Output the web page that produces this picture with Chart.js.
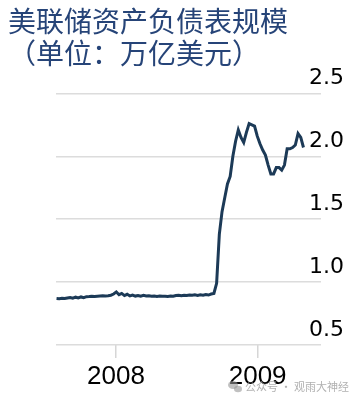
<!DOCTYPE html>
<html>
<head>
<meta charset="utf-8">
<script src="https://cdn.jsdelivr.net/npm/chart.js@4"></script>
<style>
  html, body { margin: 0; padding: 0; background: #ffffff; }
  #wrap { width: 357px; height: 402px; position: relative; }
</style>
</head>
<body>
<div id="wrap"><canvas id="c"></canvas></div>
<script>
// ---- Data (weekly, trillions of US dollars) ----
const titleLines = ['美联储资产负债表规模', '（单位：万亿美元）'];
const watermark = '公众号 · 观雨大神经';

const dates2007 = ['2007-08-01','2007-08-08','2007-08-15','2007-08-22','2007-08-29','2007-09-05','2007-09-12','2007-09-19','2007-09-26','2007-10-03','2007-10-10','2007-10-17','2007-10-24','2007-10-31','2007-11-07','2007-11-14','2007-11-21','2007-11-28','2007-12-05','2007-12-12','2007-12-19','2007-12-26'];
const values2007 = [0.870,0.868,0.872,0.869,0.874,0.878,0.872,0.880,0.874,0.882,0.876,0.884,0.885,0.887,0.886,0.888,0.890,0.891,0.889,0.892,0.896,0.905];

const dates2008a = ['2008-01-02','2008-01-09','2008-01-16','2008-01-23','2008-01-30','2008-02-06','2008-02-13','2008-02-20','2008-02-27','2008-03-05','2008-03-12','2008-03-19','2008-03-26','2008-04-02','2008-04-09','2008-04-16','2008-04-23','2008-04-30','2008-05-07','2008-05-14','2008-05-21','2008-05-28','2008-06-04','2008-06-11','2008-06-18','2008-06-25'];
const values2008a = [0.922,0.900,0.910,0.893,0.903,0.890,0.897,0.889,0.894,0.888,0.895,0.889,0.892,0.887,0.890,0.886,0.889,0.887,0.888,0.886,0.889,0.887,0.893,0.895,0.891,0.896];

const dates2008b = ['2008-07-02','2008-07-09','2008-07-16','2008-07-23','2008-07-30','2008-08-06','2008-08-13','2008-08-20','2008-08-27','2008-09-03','2008-09-10','2008-09-17','2008-09-24','2008-10-01','2008-10-08','2008-10-15','2008-10-22','2008-10-29','2008-11-05','2008-11-12','2008-11-19','2008-11-26','2008-12-03','2008-12-10','2008-12-17','2008-12-24','2008-12-31'];
const values2008b = [0.893,0.898,0.895,0.899,0.894,0.900,0.896,0.901,0.897,0.905,0.910,0.99,1.38,1.56,1.67,1.78,1.84,2.00,2.12,2.21,2.15,2.11,2.19,2.26,2.25,2.24,2.16];

const dates2009 = ['2009-01-07','2009-01-14','2009-01-21','2009-01-28','2009-02-04','2009-02-11','2009-02-18','2009-02-25','2009-03-04','2009-03-11','2009-03-18','2009-03-25','2009-04-01','2009-04-08','2009-04-15','2009-04-22','2009-04-29'];
const values2009 = [2.10,2.05,2.01,1.93,1.86,1.86,1.91,1.91,1.89,1.93,2.06,2.06,2.07,2.09,2.18,2.15,2.07];

const xTickYears = [2008, 2009];
const yTickValues = [0.5, 1.0, 1.5, 2.0, 2.5];

// ---- Build points (date -> decimal year) ----
function decimalYear(s) {
  const [y, m, d] = s.split('-').map(Number);
  const start = Date.UTC(y, 0, 1), end = Date.UTC(y + 1, 0, 1);
  return y + (Date.UTC(y, m - 1, d) - start) / (end - start);
}
const allDates = [].concat(dates2007, dates2008a, dates2008b, dates2009);
const allValues = [].concat(values2007, values2008a, values2008b, values2009);
const points = allDates.map((d, i) => ({ x: decimalYear(d), y: allValues[i] }));

const watermarkPlugin = {
  id: 'wm',
  afterDraw(chart) {
    const ctx = chart.ctx;
    ctx.save();
    ctx.fillStyle = 'rgba(150,150,150,0.75)';
    ctx.font = '11px "Noto Sans CJK SC"';
    ctx.textBaseline = 'middle';
    ctx.textAlign = 'left';
    ctx.fillText(watermark, 245, 387);
    // small chat-bubble icon
    ctx.fillStyle = 'rgba(150,150,150,0.6)';
    ctx.beginPath(); ctx.ellipse(233, 385, 5, 4, 0, 0, Math.PI * 2); ctx.fill();
    ctx.beginPath(); ctx.ellipse(238, 389, 4, 3.3, 0, 0, Math.PI * 2); ctx.fill();
    ctx.restore();
  }
};

new Chart(document.getElementById('c'), {
  type: 'line',
  data: {
    datasets: [{
      data: points,
      borderColor: '#1c3a57',
      borderWidth: 3,
      pointRadius: 0,
      tension: 0,
      fill: false,
      xAxisID: 'x',
      yAxisID: 'y'
    }]
  },
  options: {
    responsive: true,
    maintainAspectRatio: false,
    animation: false,
    events: [],
    layout: { padding: { top: 5, left: 8, right: 0, bottom: 0 } },
    plugins: {
      legend: { display: false },
      tooltip: { enabled: false },
      title: {
        display: true,
        text: titleLines,
        align: 'start',
        color: '#264478',
        font: { family: '"Noto Sans CJK SC"', size: 28, weight: 'normal', lineHeight: 1.15 },
        padding: { top: 0, bottom: 24 }
      }
    },
    scales: {
      x: {
        type: 'linear',
        position: 'bottom',
        min: 2007.577,
        max: 2009.447,
        afterBuildTicks(scale) { scale.ticks = xTickYears.map(v => ({ value: v })); },
        afterFit(scale) { scale.height = 57; },
        ticks: {
          color: '#000000',
          font: { family: '"Liberation Sans"', size: 26 },
          padding: 3,
          maxRotation: 0,
          autoSkip: false,
          callback: v => String(v)
        },
        grid: {
          drawOnChartArea: false,
          drawTicks: true,
          tickLength: 13,
          color: '#d6d6d6',
          lineWidth: 1.5
        },
        border: { display: false }
      },
      y: {
        type: 'linear',
        position: 'right',
        min: 0.5,
        max: 2.5,
        afterBuildTicks(scale) { scale.ticks = yTickValues.map(v => ({ value: v })); },
        afterFit(scale) { scale.width = 36; },
        ticks: {
          color: '#000000',
          font: { family: '"DejaVu Sans"', size: 22 },
          mirror: true,
          padding: 23,
          labelOffset: -15,
          callback: v => v.toFixed(1)
        },
        grid: {
          drawTicks: false,
          color: '#dcdcdc',
          lineWidth: 1.5
        },
        border: { display: false }
      },
      yLeft: {
        type: 'linear',
        position: 'left',
        display: true,
        afterFit(scale) { scale.width = 48; },
        ticks: { display: false },
        grid: { display: false },
        border: { display: false }
      }
    }
  },
  plugins: [watermarkPlugin]
});
</script>
</body>
</html>
